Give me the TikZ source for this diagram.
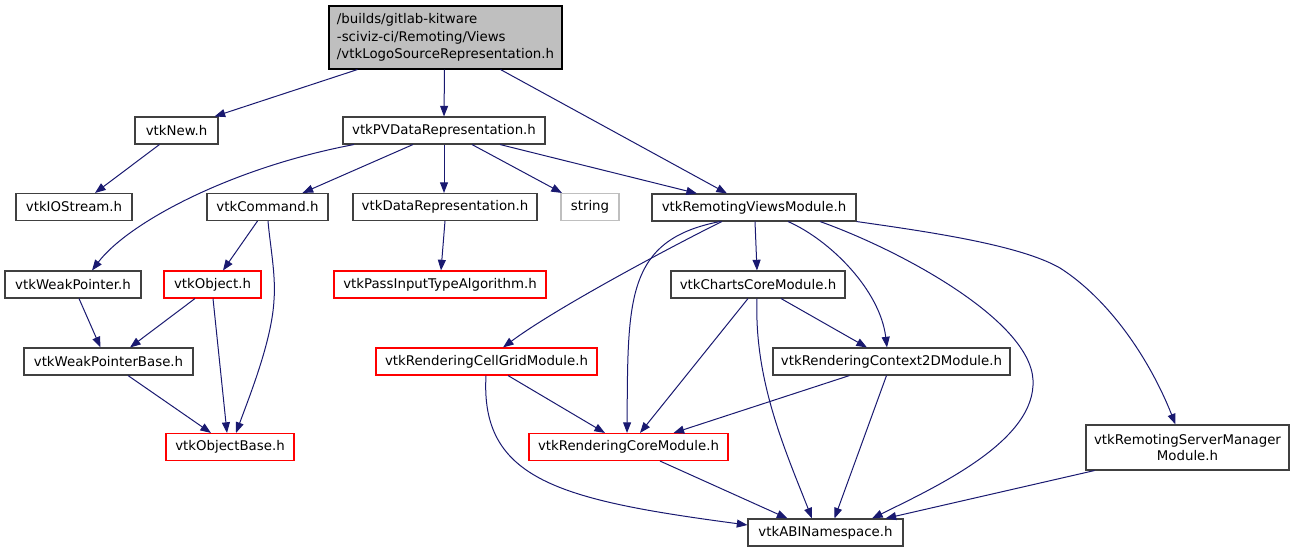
\documentclass[tikz,border=0pt]{standalone}
\usepackage{fontspec}
\setmainfont{DejaVu Sans}
\usetikzlibrary{arrows.meta,calc}
\definecolor{edgec}{HTML}{191970}
\definecolor{nodeb}{HTML}{404040}
\definecolor{topfill}{HTML}{BFBFBF}
\begin{document}
\begin{tikzpicture}[x=0.75pt,y=-0.75pt,
  box/.style={draw=nodeb,line width=0.8pt,fill=white,inner sep=0pt,
    minimum height=20.25pt,minimum width=#1*0.75pt,
    font=\fontsize{10}{12.5}\selectfont},
  redbox/.style={box=#1,draw=red},
  topbox/.style={box=233,draw=black,fill=topfill,minimum height=47.25pt,align=left,
    font=\fontsize{10}{13}\selectfont},
  edge/.style={draw=edgec,line width=0.75pt,-{Triangle[length=8pt,width=6pt]}}]
\useasboundingbox (0,0) rectangle (1295,553);

\node[topbox] (top) at (445.5,37.5) {/builds/gitlab-kitware\\-sciviz-ci/Remoting/Views\\/vtkLogoSourceRepresentation.h};
\node[box=83] (new) at (176.5,130.5) {vtkNew.h};
\node[box=202] (pv) at (444,130.5) {vtkPVDataRepresentation.h};
\node[box=116] (ios) at (74,207) {vtkIOStream.h};
\node[box=121] (cmd) at (267.5,207) {vtkCommand.h};
\node[box=184] (dr) at (445,207) {vtkDataRepresentation.h};
\node[box=58,draw=topfill] (str) at (590,207) {string};
\node[box=204] (rvm) at (754,207.5) {vtkRemotingViewsModule.h};
\node[box=136] (wp) at (73,284.5) {vtkWeakPointer.h};
\node[redbox=97] (obj) at (212.5,284.5) {vtkObject.h};
\node[redbox=212] (pita) at (440,284.5) {vtkPassInputTypeAlgorithm.h};
\node[box=174] (ccm) at (758,284.5) {vtkChartsCoreModule.h};
\node[box=169] (wpb) at (108.5,361.5) {vtkWeakPointerBase.h};
\node[redbox=221] (cgm) at (486.5,361.5) {vtkRenderingCellGridModule.h};
\node[box=237] (c2d) at (891.5,361.5) {vtkRenderingContext2DModule.h};
\node[redbox=128] (ob) at (230,447) {vtkObjectBase.h};
\node[redbox=199] (rcm) at (628.5,447) {vtkRenderingCoreModule.h};
\node[box=203,minimum height=33.75pt,align=center] (rsm) at (1187.5,447.5) {vtkRemotingServerManager\\Module.h};
\node[box=155] (abi) at (825.5,532.5) {vtkABINamespace.h};

\draw[edge] ($(top.south)+(-88,0)$) -- ($(new.north)+(38,0)$);
\draw[edge] ($(top.south)+(-1,0)$) -- (pv.north);
\draw[edge] ($(top.south)+(55,0)$) -- ($(rvm.north)+(-27,0)$);
\draw[edge] ($(new.south)+(-17,0)$) -- ($(ios.north)+(21,0)$);
\draw[edge] ($(pv.south)+(-90,0)$) .. controls (230,168) and (128,223) .. ($(wp.north)+(19,0)$);
\draw[edge] ($(pv.south)+(-31,0)$) -- ($(cmd.north)+(35,0)$);
\draw[edge] (pv.south) -- ($(dr.north)+(-1,0)$);
\draw[edge] ($(pv.south)+(28,0)$) -- ($(str.north)+(-28,0)$);
\draw[edge] ($(pv.south)+(56,0)$) -- ($(rvm.north)+(-57,0)$);
\draw[edge] (dr.south) -- ($(pita.north)+(1,0)$);
\draw[edge] ($(cmd.south)+(-10,0)$) -- ($(obj.north)+(10.5,0)$);
\draw[edge] ($(cmd.south)+(0.5,0)$) .. controls (270,245) and (276,275) .. (274,300) .. controls (272,340) and (250,395) .. ($(ob.north)+(6,0)$);
\draw[edge] ($(wp.south)+(6,0)$) -- ($(wpb.north)+(-8,0)$);
\draw[edge] ($(obj.south)+(-17.5,0)$) -- ($(wpb.north)+(21.5,0)$);
\draw[edge] ($(obj.south)+(0.5,0)$) -- ($(ob.north)+(-3,0)$);
\draw[edge] ($(wpb.south)+(19.5,0)$) -- ($(ob.north)+(-19,0)$);
\draw[edge] ($(rvm.south)+(-32,0)$) .. controls (690,237) and (560,305) .. ($(cgm.north)+(16.5,0)$);
\draw[edge] ($(rvm.south)+(-34,0)$) .. controls (625,240) and (628,300) .. ($(rcm.north)+(-1.5,0)$);
\draw[edge] ($(rvm.south)+(1,0)$) -- ($(ccm.north)+(-1,0)$);
\draw[edge] ($(rvm.south)+(34,0)$) .. controls (830,240) and (880,290) .. ($(c2d.north)+(-4.5,0)$);
\draw[edge] ($(rvm.south)+(66,0)$) .. controls (900,250) and (1030,320) .. (1033,380) .. controls (1036,440) and (940,485) .. ($(abi.north)+(46.5,0)$);
\draw[edge] (rvm.south east) .. controls (930,232) and (1020,245) .. (1060,268) .. controls (1110,300) and (1150,360) .. ($(rsm.north)+(-12,0)$);
\draw[edge] ($(ccm.south)+(-10,0)$) -- ($(rcm.north)+(11.5,0)$);
\draw[edge] ($(ccm.south)+(23,0)$) -- ($(c2d.north)+(-24.5,0)$);
\draw[edge] ($(ccm.south)+(-1,0)$) .. controls (754,380) and (785,450) .. ($(abi.north)+(-13.5,0)$);
\draw[edge] ($(cgm.south)+(21.5,0)$) -- ($(rcm.north)+(-23.5,0)$);
\draw[edge] ($(cgm.south)+(-0.5,0)$) .. controls (480,480) and (560,500) .. ($(abi.west)+(0,-7.5)$);
\draw[edge] ($(c2d.south)+(-42,0)$) -- ($(rcm.north)+(45,0)$);
\draw[edge] ($(c2d.south)+(-5,0)$) -- ($(abi.north)+(9,0)$);
\draw[edge] ($(rcm.south)+(31.5,0)$) -- ($(abi.north)+(-38,0)$);
\draw[edge] ($(rsm.south)+(-93,0)$) -- ($(abi.north)+(60,0)$);
\end{tikzpicture}
\end{document}
